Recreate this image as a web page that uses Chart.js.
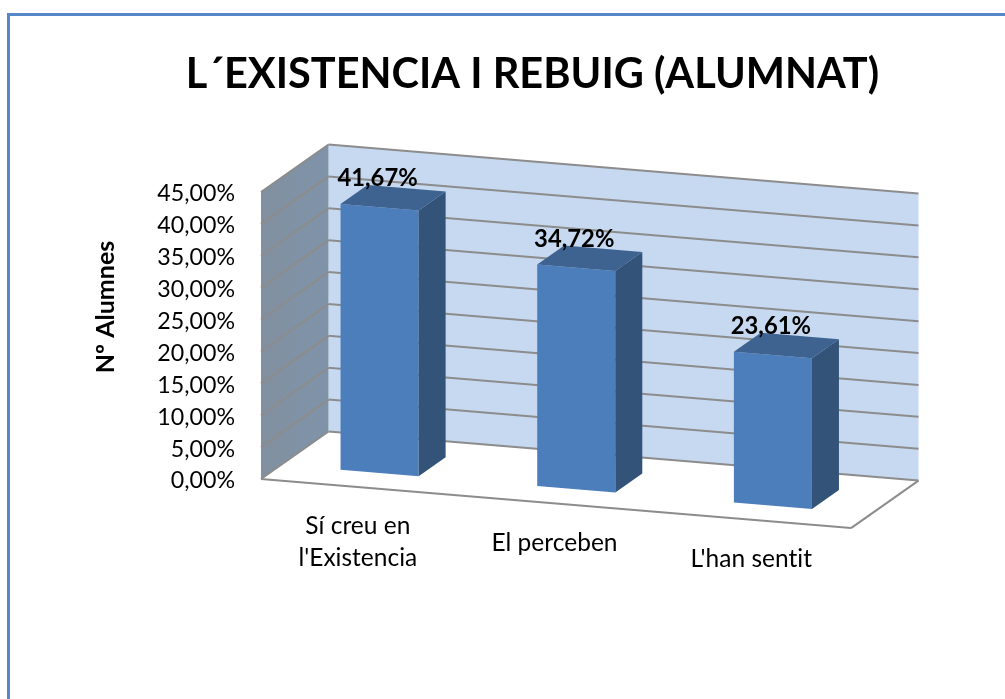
<!DOCTYPE html>
<html>
<head>
<meta charset="utf-8">
<style>
html,body{margin:0;padding:0;background:#fff;overflow:hidden}
#wrap{position:absolute;left:0;top:0;width:1005px;height:699px}
canvas{display:block}
</style>
<script src="https://cdn.jsdelivr.net/npm/chart.js@4"></script>
</head>
<body>
<div id="wrap"><canvas id="c" width="1005" height="699"></canvas></div>
<script>
const chartTitle = "L´EXISTENCIA I REBUIG (ALUMNAT)";
const yAxisTitle = "Nº Alumnes";
const categories = [["Sí creu en", "l'Existencia"], ["El perceben"], ["L'han sentit"]];
const values = [41.67, 34.72, 23.61];
const valueLabels = ["41,67%", "34,72%", "23,61%"];
const tickLabels = ["0,00%", "5,00%", "10,00%", "15,00%", "20,00%", "25,00%", "30,00%", "35,00%", "40,00%", "45,00%"];

const FONT = "Lato, 'Open Sans', sans-serif";
const SHEAR = 0.0832, DX = 67.5, DY = -47.5, BAR_FRONT = 0.3, BAR_BACK = 0.7;

function project(chart, px, py, depth) {
  const xL = chart.chartArea.left;
  return [px + DX * depth, py + (px - xL) * SHEAR + DY * depth];
}
function poly(ctx, pts, fill) {
  ctx.beginPath();
  pts.forEach((p, i) => i ? ctx.lineTo(p[0], p[1]) : ctx.moveTo(p[0], p[1]));
  ctx.closePath();
  if (fill) { ctx.fillStyle = fill; ctx.fill(); }
}
function seg(ctx, a, b) {
  ctx.beginPath(); ctx.moveTo(a[0], a[1]); ctx.lineTo(b[0], b[1]); ctx.stroke();
}

const scene3d = {
  id: 'scene3d',
  beforeDraw(chart) {
    const ctx = chart.ctx;
    ctx.save();
    ctx.strokeStyle = '#5687c6';
    ctx.lineWidth = 3;
    ctx.beginPath();
    ctx.moveTo(8.5, 705);
    ctx.lineTo(8.5, 14.5);
    ctx.lineTo(1010, 14.5);
    ctx.stroke();
    ctx.restore();
  },
  beforeDatasetsDraw(chart) {
    const ctx = chart.ctx, a = chart.chartArea, ys = chart.scales.y;
    const P = (x, y, d) => project(chart, x, y, d);
    ctx.save();
    const yT = a.top, yB = a.bottom, xL = a.left, xR = a.right;
    // back wall
    poly(ctx, [P(xL, yT, 1), P(xR, yT, 1), P(xR, yB, 1), P(xL, yB, 1)], '#c6d9f1');
    // side wall
    const g = ctx.createLinearGradient(xL, 0, xL + DX, 0);
    g.addColorStop(0, '#8190a0');
    g.addColorStop(1, '#7f93a9');
    poly(ctx, [P(xL, yT, 0), P(xL, yT, 1), P(xL, yB, 1), P(xL, yB, 0)], g);
    // floor
    poly(ctx, [P(xL, yB, 0), P(xR, yB, 0), P(xR, yB, 1), P(xL, yB, 1)], '#ffffff');
    // gridlines from the value scale
    ctx.strokeStyle = '#8c8c8c';
    ctx.lineWidth = 2;
    ys.ticks.forEach(t => {
      const y = ys.getPixelForValue(t.value);
      seg(ctx, P(xL, y, 0), P(xL, y, 1));
      seg(ctx, P(xL, y, 1), P(xR, y, 1));
    });
    seg(ctx, P(xL, yB, 0), P(xR, yB, 0));
    seg(ctx, P(xR, yB, 0), P(xR, yB, 1));
    ctx.restore();
    // shear native bars onto the front plane of the columns
    ctx.save();
    ctx.transform(1, SHEAR, 0, 1, DX * BAR_FRONT, -SHEAR * xL + DY * BAR_FRONT);
  },
  afterDatasetsDraw(chart) {
    const ctx = chart.ctx;
    ctx.restore();
    const P = (x, y, d) => project(chart, x, y, d);
    ctx.save();
    ctx.letterSpacing = '0.01px';
    const meta = chart.getDatasetMeta(0);
    const base = chart.scales.y.getPixelForValue(0);
    meta.data.forEach((bar, i) => {
      const h = bar.getProps(['x', 'y', 'width']);
      const l = h.x - h.width / 2, r = h.x + h.width / 2, top = h.y;
      poly(ctx, [P(r, top, BAR_FRONT), P(r, top, BAR_BACK), P(r, base, BAR_BACK), P(r, base, BAR_FRONT)], '#335379');
      poly(ctx, [P(l, top, BAR_FRONT), P(r, top, BAR_FRONT), P(r, top, BAR_BACK), P(l, top, BAR_BACK)], '#3e6390');
      // value label
      const c = P(h.x, top, BAR_FRONT);
      ctx.fillStyle = '#000';
      ctx.font = 'bold 23.8px ' + FONT;
      ctx.textAlign = 'center';
      ctx.textBaseline = 'middle';
      ctx.fillText(valueLabels[i], c[0] - 2, c[1] - 29);
    });
    // category labels follow the sheared floor edge
    ctx.fillStyle = '#000';
    ctx.font = '24.5px ' + FONT;
    ctx.textAlign = 'center';
    ctx.textBaseline = 'middle';
    const xs = chart.scales.x, a = chart.chartArea;
    categories.forEach((lines, i) => {
      const px = xs.getPixelForValue(i);
      const y0 = a.bottom + 47.5 + (px - xs.getPixelForValue(0)) * SHEAR;
      lines.forEach((t, k) => ctx.fillText(t, px - 1.5, y0 + k * 32));
    });
    // axis title
    ctx.save();
    ctx.translate(106, 307);
    ctx.rotate(-Math.PI / 2);
    ctx.font = 'bold 25px ' + FONT;
    ctx.fillText(yAxisTitle, 0, 0);
    ctx.restore();
    // chart title
    ctx.font = 'bold 41.5px ' + FONT;
    ctx.fillText(chartTitle, 532.5, 75);
    ctx.restore();
  }
};

new Chart(document.getElementById('c'), {
  type: 'bar',
  data: {
    labels: categories,
    datasets: [{
      data: values,
      backgroundColor: '#4c7ebb',
      borderWidth: 0,
      categoryPercentage: 1,
      barPercentage: 0.397,
      clip: false
    }]
  },
  options: {
    responsive: false,
    animation: false,
    events: [],
    layout: { padding: { left: 0, top: 192, right: 154, bottom: 220 } },
    plugins: { legend: { display: false }, tooltip: { enabled: false }, title: { display: false } },
    scales: {
      x: { display: false },
      y: {
        min: 0, max: 45,
        afterFit(s) { s.width = 261; },
        grid: { display: false, drawTicks: false },
        border: { display: false },
        ticks: {
          stepSize: 5,
          padding: 26,
          labelOffset: 2,
          color: '#000',
          font: { family: FONT, size: 23.2 },
          callback: (v, i) => tickLabels[i]
        }
      }
    }
  },
  plugins: [scene3d]
});
</script>
</body>
</html>
